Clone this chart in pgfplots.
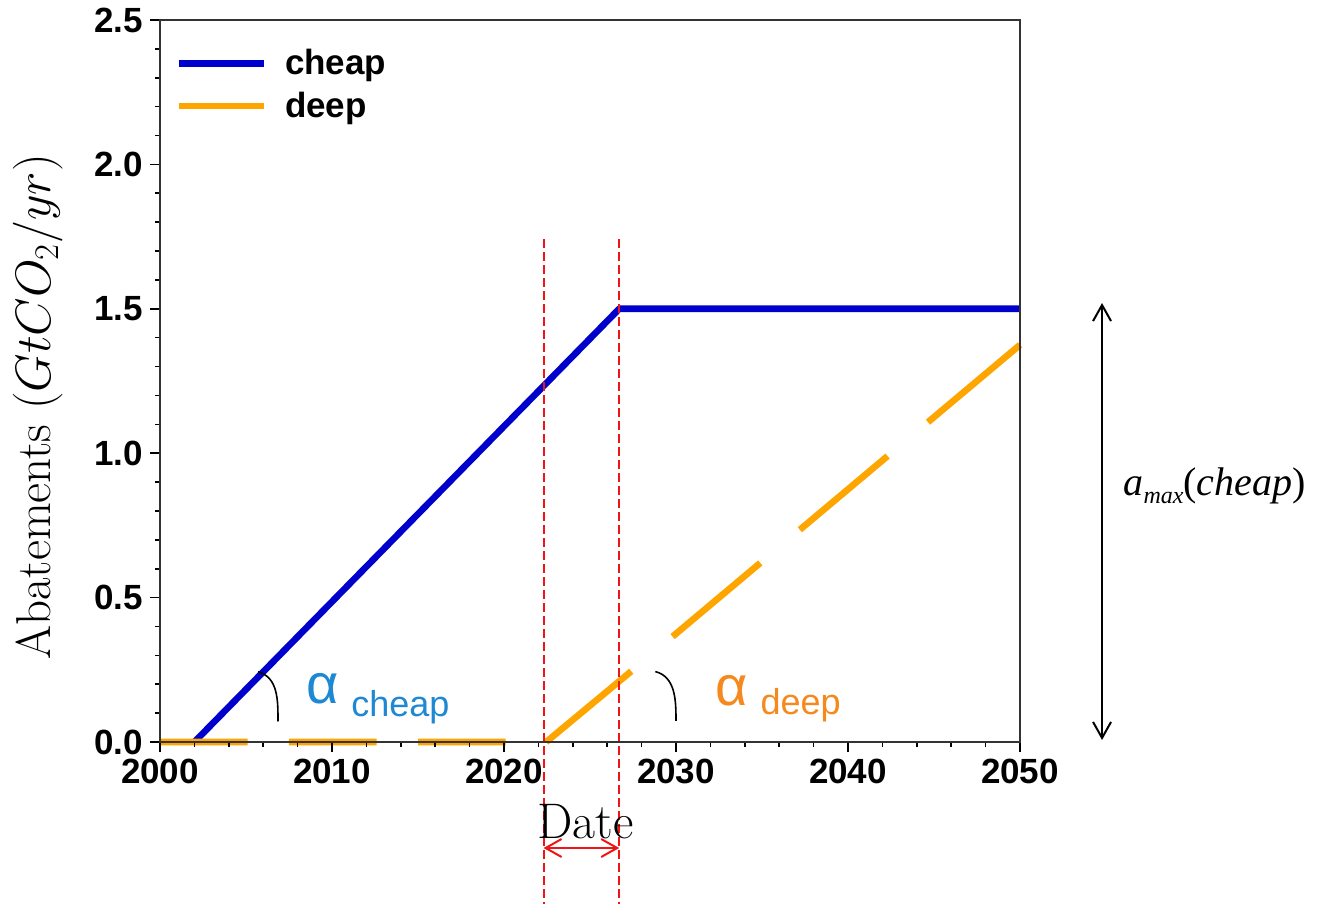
\documentclass[border=0pt]{standalone}
\usepackage{fontspec}
\usepackage{pgfplots}
\pgfplotsset{compat=1.18}
\usepackage{pgfplotstable}
\usetikzlibrary{arrows.meta}

\newfontfamily\arial{Liberation Sans}
\newfontfamily\tnr{Liberation Serif}

\definecolor{cheapblue}{RGB}{0,0,205}
\definecolor{deeporange}{RGB}{255,165,0}
\definecolor{alphablue}{RGB}{30,136,210}
\definecolor{alphaorange}{RGB}{245,137,30}
\definecolor{windowred}{RGB}{240,20,20}

% cheap abatement: linear ramp up to the cap, then flat
\pgfplotstableread{
year ab
2002 0
2026.7 1.5
2050 1.5
}\cheaptable

% deep abatement: sampled output with missing stretches (nan = gap)
\pgfplotstableread{
year ab
2000 0
2005.1 0
2006.3 nan
2007.5 0
2012.6 0
2013.8 nan
2015.0 0
2020.1 0
2021.3 nan
2022.45 0
2027.4 0.245
2028.6 nan
2029.8 0.365
2034.9 0.62
2036.0 nan
2037.2 0.735
2042.3 0.99
2043.5 nan
2044.65 1.1075
2050 1.375
}\deeptable

\begin{document}
\begin{tikzpicture}
\path[use as bounding box] (-80pt,-81pt) rectangle (580pt,371pt);
\begin{axis}[
  at={(0pt,0pt)}, anchor=south west,
  scale only axis, width=430pt, height=361pt,
  xmin=2000, xmax=2050, ymin=0, ymax=2.5,
  clip=false, axis on top,
  xtick={2000,2010,...,2050}, minor x tick num=4,
  ytick={0,0.5,...,2.5}, minor y tick num=4,
  xtick pos=bottom, ytick pos=left,
  tick align=outside,
  major tick length=5pt, minor tick length=2.5pt,
  every tick/.style={black, line width=0.8pt},
  axis line style={black!80, line width=1pt},
  /pgf/number format/assume math mode=true,
  ticklabel style={font=\fontsize{17.5}{20}\arial\bfseries},
  xticklabel style={/pgf/number format/1000 sep={}},
  yticklabel style={/pgf/number format/.cd, fixed, fixed zerofill, precision=1},
  xlabel={Date},
  ylabel={Abatements $(GtCO_2/yr)$},
  xlabel style={font=\fontsize{25}{29}\selectfont, at={(axis description cs:0.495,-0.133)}, anchor=base},
  ylabel style={font=\fontsize{24.5}{28}\selectfont, at={(axis description cs:-0.127,0.464)}, anchor=base},
  legend style={at={(axis description cs:0.0,1.0)}, anchor=north west,
    xshift=4.5pt, yshift=-10.5pt,
    draw=none, fill=none, font=\fontsize{17.5}{20}\arial\bfseries,
    row sep=3pt, column sep=7pt},
  legend cell align=left,
  legend image code/.code={\draw[#1] (0pt,0pt) -- (42.5pt,0pt);},
]
\addplot[cheapblue, line width=3.3pt, line join=round] table[x=year, y=ab] {\cheaptable};
\addlegendentry{cheap}
\addplot[deeporange, line width=3.3pt, unbounded coords=jump] table[x=year, y=ab] {\deeptable};
\addlegendentry{deep}

% time window between the two starts
\draw[windowred, line width=1pt, dash pattern=on 4.5pt off 2pt] (axis cs:2022.3,1.74) -- (axis cs:2022.3,-0.56);
\draw[windowred, line width=1pt, dash pattern=on 4.5pt off 2pt] (axis cs:2026.7,1.74) -- (axis cs:2026.7,-0.56);
\draw[windowred, line width=1pt, {Straight Barb[length=8pt,width=9pt]}-{Straight Barb[length=8pt,width=9pt]}]
  (axis cs:2022.3,-0.367) -- (axis cs:2026.7,-0.367);

% slope angles
\draw[line width=0.8pt] (axis cs:2005.7,0.243) to[out=-15,in=90] (axis cs:2006.86,0.071);
\draw[line width=0.8pt] (axis cs:2028.8,0.244) to[out=-15,in=90] (axis cs:2030.0,0.073);
\node[anchor=base west, inner sep=0pt, text=alphablue, font=\fontsize{28}{30}\arial] at (axis cs:2008.5,0.135) {α};
\node[anchor=base west, inner sep=0pt, text=alphablue, font=\fontsize{18}{20}\arial] at (axis cs:2011.1,0.087) {cheap};
\node[anchor=base west, inner sep=0pt, text=alphaorange, font=\fontsize{28}{30}\arial] at (axis cs:2032.3,0.128) {α};
\node[anchor=base west, inner sep=0pt, text=alphaorange, font=\fontsize{18}{20}\arial] at (axis cs:2034.9,0.094) {deep};

% cap of the cheap abatement
\draw[line width=1pt, {Straight Barb[length=8pt,width=9pt]}-{Straight Barb[length=8pt,width=9pt]}]
  (axis cs:2054.77,1.52) -- (axis cs:2054.77,0.007);
\node[anchor=base west, inner sep=0pt, font=\fontsize{20}{24}\tnr] at (axis cs:2056.0,0.855)
  {\itshape a\raisebox{-4pt}{\fontsize{12}{14}\selectfont max}\upshape(\itshape cheap\upshape)};
\end{axis}
\end{tikzpicture}
\end{document}
